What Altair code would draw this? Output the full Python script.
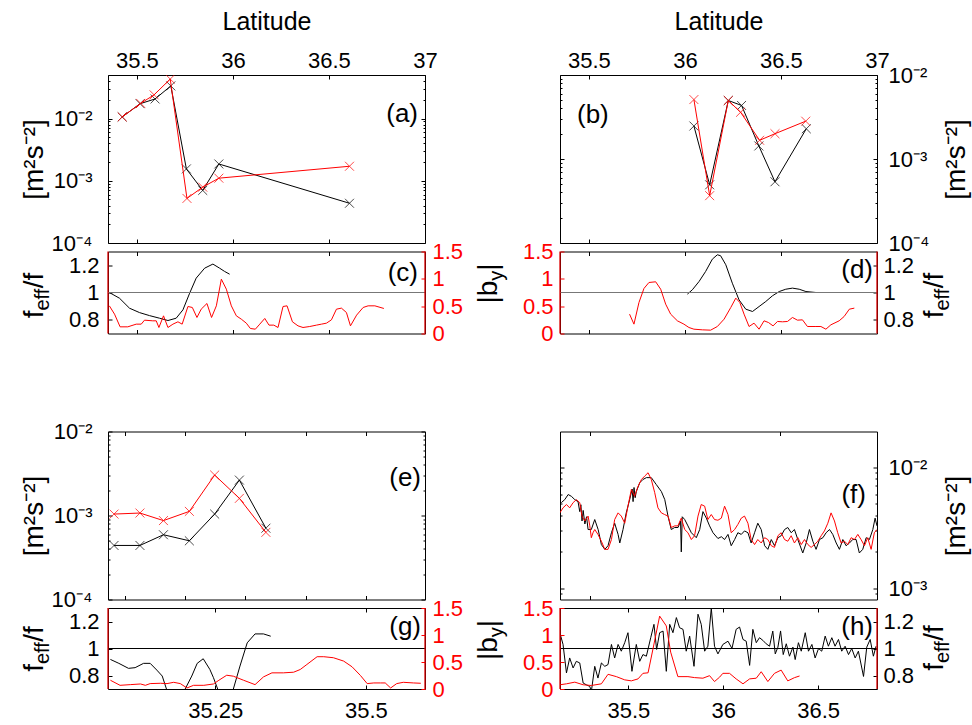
import altair as alt
import pandas as pd

FONT = "Liberation Sans"
RED = "#ff0000"
FRAME_RED = "#dd0000"
GREY = "#777777"
W = 317
H_BIG = 168
H_SMALL = 82
H_SMALL2 = 81
TICK = 4
MINOR = 2
XSHAPE = "M-1,-1L1,1M-1,1L1,-1"

# ---------------- data ----------------
# (a) m^2 s^-2
a_lat_black = [35.424, 35.517, 35.595, 35.677, 35.758, 35.843, 35.927, 36.607]
a_val_black = [0.0106, 0.0173, 0.0206, 0.0334, 1.55e-3, 7.0e-4, 1.86e-3, 4.35e-4]
a_lat_red = [35.424, 35.520, 35.590, 35.674, 35.761, 35.843, 35.927, 36.607]
a_val_red = [0.0106, 0.0175, 0.024, 0.043, 5.2e-4, 7.9e-4, 1.1e-3, 1.71e-3]
# (b)
b_lat_black = [36.047, 36.129, 36.226, 36.295, 36.385, 36.469, 36.632]
b_val_black = [2.47e-3, 4.93e-4, 4.97e-3, 4.34e-3, 1.43e-3, 5.36e-4, 2.29e-3]
b_lat_red = [36.047, 36.129, 36.226, 36.290, 36.389, 36.469, 36.629]
b_val_red = [5.1e-3, 3.66e-4, 4.97e-3, 3.6e-3, 1.67e-3, 2.0e-3, 2.82e-3]
# (e)
e_lat = [35.082, 35.125, 35.164, 35.207, 35.249, 35.290, 35.334]
e_val_black = [4.4e-4, 4.4e-4, 5.9e-4, 5.0e-4, 1.04e-3, 2.64e-3, 7.06e-4]
e_val_red = [1.04e-3, 1.07e-3, 8.7e-4, 1.12e-3, 3.03e-3, 1.6e-3, 6.3e-4]

# (f) (latitude, value in 1e-3 m^2 s^-2)
f_black = [(35.147, 5.1), (35.165, 5.4), (35.183, 5.95), (35.200, 5.75), (35.218, 5.4), (35.235, 5.2),
           (35.244, 4.3), (35.250, 4.9), (35.256, 3.6), (35.262, 4.4), (35.271, 3.4), (35.280, 3.9),
           (35.288, 3.06), (35.305, 3.06), (35.323, 3.7), (35.341, 3.06), (35.358, 2.3), (35.376, 2.1),
           (35.393, 2.25), (35.411, 2.88), (35.428, 3.45), (35.446, 2.79), (35.455, 2.37), (35.472, 3.06),
           (35.489, 4.2), (35.507, 5.4), (35.520, 6.6), (35.525, 5.2), (35.530, 6.8), (35.536, 5.6),
           (35.542, 6.3), (35.560, 7.44), (35.577, 7.92), (35.595, 8.2), (35.621, 8.2), (35.647, 7.2),
           (35.674, 6.3), (35.692, 5.4), (35.709, 3.95), (35.726, 3.06), (35.744, 3.18), (35.762, 3.18),
           (35.775, 3.6), (35.779, 2.0), (35.784, 3.9), (35.797, 3.7), (35.814, 3.28), (35.832, 2.88),
           (35.858, 2.62), (35.876, 3.06), (35.893, 4.3), (35.911, 3.8), (35.928, 3.28), (35.946, 2.88),
           (35.972, 2.58), (35.990, 2.67), (36.007, 2.53), (36.025, 2.79), (36.042, 2.25), (36.060, 2.53),
           (36.077, 2.88), (36.095, 2.79), (36.112, 2.98), (36.130, 2.88), (36.147, 2.37), (36.165, 2.88),
           (36.182, 3.45), (36.200, 3.06), (36.218, 2.25), (36.235, 2.1), (36.253, 2.53), (36.270, 2.25),
           (36.288, 2.62), (36.305, 2.72), (36.323, 3.06), (36.340, 3.18), (36.358, 2.88), (36.375, 3.06),
           (36.393, 2.53), (36.419, 1.96), (36.437, 2.37), (36.454, 3.06), (36.472, 2.45), (36.489, 2.1),
           (36.507, 2.53), (36.525, 2.62), (36.542, 2.88), (36.560, 3.06), (36.577, 2.79), (36.595, 2.37),
           (36.612, 2.1), (36.630, 2.53), (36.647, 2.25), (36.665, 2.37), (36.682, 2.53), (36.700, 2.53),
           (36.717, 1.96), (36.735, 2.1), (36.753, 2.62), (36.770, 2.53), (36.788, 3.06), (36.800, 3.8),
           (36.810, 3.28)]
f_red = [(35.139, 4.2), (35.156, 4.62), (35.174, 4.92), (35.191, 4.62), (35.209, 5.1), (35.226, 5.4),
         (35.244, 5.1), (35.256, 3.95), (35.270, 3.6), (35.288, 3.95), (35.297, 3.28), (35.305, 2.62),
         (35.314, 2.88), (35.323, 3.06), (35.340, 2.79), (35.358, 2.45), (35.376, 2.1), (35.393, 2.1),
         (35.411, 2.53), (35.428, 3.7), (35.446, 4.2), (35.463, 3.95), (35.481, 3.45), (35.498, 4.77),
         (35.516, 6.55), (35.533, 5.75), (35.551, 6.93), (35.569, 7.92), (35.586, 8.44), (35.604, 9.0),
         (35.621, 7.92), (35.639, 6.16), (35.656, 4.62), (35.674, 4.2), (35.691, 4.07), (35.709, 3.95),
         (35.726, 3.18), (35.744, 3.28), (35.761, 3.28), (35.779, 3.8), (35.797, 3.06), (35.814, 2.88),
         (35.832, 2.53), (35.849, 2.72), (35.867, 3.95), (35.884, 4.92), (35.902, 4.77), (35.919, 3.7),
         (35.937, 4.07), (35.954, 3.7), (35.972, 3.65), (35.990, 3.8), (36.007, 4.77), (36.025, 4.07),
         (36.042, 2.88), (36.060, 3.06), (36.077, 3.37), (36.095, 3.8), (36.112, 3.95), (36.130, 3.45),
         (36.147, 2.53), (36.165, 2.3), (36.182, 2.53), (36.200, 2.37), (36.218, 2.62), (36.235, 2.53),
         (36.253, 2.25), (36.270, 2.18), (36.288, 2.72), (36.305, 2.88), (36.323, 2.53), (36.340, 2.45),
         (36.358, 2.72), (36.375, 2.37), (36.393, 2.62), (36.411, 2.3), (36.428, 2.53), (36.446, 2.3),
         (36.463, 2.18), (36.481, 2.3), (36.498, 2.45), (36.516, 2.72), (36.533, 2.98), (36.551, 3.45),
         (36.568, 4.2), (36.586, 3.6), (36.603, 2.88), (36.621, 2.37), (36.639, 2.45), (36.656, 2.3),
         (36.674, 2.62), (36.691, 2.53), (36.709, 2.79), (36.726, 2.53), (36.744, 2.25), (36.761, 2.62),
         (36.779, 2.1), (36.796, 2.88), (36.810, 3.06)]

# (c) f_eff/f (black) and |b_y| (red)
c_black = [(35.357, 1.0), (35.410, 0.958), (35.462, 0.885), (35.514, 0.853), (35.566, 0.831),
           (35.618, 0.812), (35.662, 0.795), (35.705, 0.812), (35.740, 0.873), (35.775, 0.995),
           (35.809, 1.105), (35.853, 1.178), (35.896, 1.208), (35.931, 1.178), (35.957, 1.154),
           (35.983, 1.134)]
c_red = [(35.357, 0.506), (35.384, 0.354), (35.413, 0.122), (35.453, 0.122), (35.497, 0.171),
         (35.523, 0.171), (35.540, 0.244), (35.583, 0.232), (35.601, 0.232), (35.615, 0.110),
         (35.639, 0.323), (35.662, 0.110), (35.688, 0.171), (35.714, 0.214), (35.736, 0.171),
         (35.766, 0.494), (35.789, 0.476), (35.813, 0.293), (35.835, 0.445), (35.865, 0.549),
         (35.889, 0.293), (35.914, 0.506), (35.940, 0.994), (35.966, 0.811), (35.992, 0.506),
         (36.018, 0.323), (36.044, 0.262), (36.070, 0.189), (36.091, 0.092), (36.117, 0.079),
         (36.140, 0.171), (36.166, 0.275), (36.188, 0.153), (36.213, 0.153), (36.235, 0.110),
         (36.261, 0.494), (36.282, 0.506), (36.310, 0.214), (36.339, 0.140), (36.365, 0.110),
         (36.400, 0.128), (36.435, 0.153), (36.461, 0.171), (36.487, 0.189), (36.513, 0.250),
         (36.539, 0.445), (36.565, 0.464), (36.591, 0.384), (36.612, 0.140), (36.644, 0.336),
         (36.678, 0.476), (36.704, 0.506), (36.739, 0.506), (36.786, 0.458)]
# (d)
d_black = [(36.013, 0.988), (36.039, 1.020), (36.074, 1.081), (36.108, 1.154), (36.143, 1.244),
           (36.169, 1.276), (36.186, 1.269), (36.213, 1.203), (36.247, 1.068), (36.282, 0.946),
           (36.317, 0.878), (36.352, 0.861), (36.386, 0.897), (36.421, 0.934), (36.456, 0.976),
           (36.491, 1.007), (36.525, 1.024), (36.560, 1.032), (36.595, 1.024), (36.630, 1.007),
           (36.682, 1.000)]
d_red = [(35.712, 0.354), (35.735, 0.171), (35.761, 0.567), (35.787, 0.824), (35.813, 0.933),
         (35.848, 0.946), (35.874, 0.811), (35.900, 0.537), (35.926, 0.354), (35.961, 0.232),
         (35.995, 0.171), (36.021, 0.110), (36.047, 0.079), (36.091, 0.067), (36.134, 0.061),
         (36.169, 0.128), (36.204, 0.262), (36.239, 0.476), (36.265, 0.647), (36.286, 0.567),
         (36.308, 0.354), (36.334, 0.128), (36.360, 0.189), (36.386, 0.079), (36.412, 0.232),
         (36.435, 0.201), (36.459, 0.140), (36.482, 0.220), (36.508, 0.214), (36.534, 0.220),
         (36.560, 0.293), (36.586, 0.244), (36.612, 0.250), (36.638, 0.128), (36.682, 0.128),
         (36.708, 0.128), (36.734, 0.079), (36.760, 0.159), (36.803, 0.232), (36.829, 0.311),
         (36.856, 0.445), (36.882, 0.464)]
# (g)
g_black = [(35.076, 0.919), (35.090, 0.890), (35.106, 0.853), (35.117, 0.858), (35.131, 0.890),
           (35.142, 0.890), (35.153, 0.840), (35.162, 0.796), (35.169, 0.700), (35.184, 0.620),
           (35.200, 0.700), (35.211, 0.796), (35.220, 0.890), (35.230, 0.924), (35.241, 0.845),
           (35.247, 0.784), (35.254, 0.700), (35.267, 0.600), (35.280, 0.700), (35.291, 0.870),
           (35.303, 1.042), (35.316, 1.108), (35.330, 1.108), (35.342, 1.091)]
g_red = [(35.076, 0.162), (35.092, 0.068), (35.109, 0.081), (35.126, 0.093), (35.134, 0.068),
         (35.142, 0.100), (35.159, 0.106), (35.170, 0.100), (35.181, 0.124), (35.192, 0.100),
         (35.203, 0.019), (35.214, 0.068), (35.231, 0.068), (35.247, 0.093), (35.256, 0.162),
         (35.269, 0.255), (35.280, 0.237), (35.297, 0.162), (35.316, 0.081), (35.330, 0.224),
         (35.344, 0.299), (35.363, 0.299), (35.380, 0.311), (35.391, 0.361), (35.402, 0.454),
         (35.419, 0.598), (35.430, 0.598), (35.446, 0.579), (35.463, 0.517), (35.477, 0.411),
         (35.491, 0.249), (35.502, 0.100), (35.513, 0.112), (35.524, 0.112), (35.532, 0.112),
         (35.541, 0.019), (35.551, 0.100), (35.562, 0.124), (35.579, 0.112), (35.591, 0.106)]
# (h)
h_black = [(35.144, 1.092), (35.156, 1.030), (35.174, 0.819), (35.191, 0.930), (35.209, 0.856),
           (35.226, 0.905), (35.244, 0.893), (35.262, 0.744), (35.279, 0.731), (35.297, 0.719),
           (35.305, 0.680), (35.323, 0.868), (35.340, 0.781), (35.358, 0.893), (35.376, 0.868),
           (35.393, 0.881), (35.411, 1.030), (35.428, 0.930), (35.446, 1.030), (35.463, 0.980),
           (35.481, 1.043), (35.498, 1.117), (35.519, 0.831), (35.542, 1.030), (35.560, 0.905),
           (35.577, 0.955), (35.595, 0.943), (35.618, 1.080), (35.635, 1.179), (35.649, 0.993),
           (35.665, 1.117), (35.683, 1.129), (35.700, 0.831), (35.718, 1.179), (35.735, 1.117),
           (35.753, 1.229), (35.770, 1.154), (35.788, 1.142), (35.805, 0.980), (35.823, 1.092),
           (35.846, 0.868), (35.867, 1.254), (35.884, 1.179), (35.902, 0.980), (35.919, 1.017),
           (35.937, 1.300), (35.954, 1.017), (35.972, 0.960), (35.998, 1.030), (36.025, 1.054),
           (36.046, 1.000), (36.068, 1.142), (36.086, 1.159), (36.104, 1.067), (36.121, 1.054),
           (36.139, 0.875), (36.156, 1.142), (36.174, 1.043), (36.191, 1.080), (36.209, 1.060),
           (36.226, 1.035), (36.244, 1.017), (36.261, 1.129), (36.274, 0.960), (36.288, 1.010),
           (36.302, 1.130), (36.316, 0.955), (36.332, 1.035), (36.349, 0.943), (36.367, 1.010),
           (36.379, 0.918), (36.396, 1.043), (36.411, 0.980), (36.432, 1.117), (36.449, 0.980),
           (36.467, 1.030), (36.484, 0.930), (36.502, 1.000), (36.519, 0.980), (36.537, 1.092),
           (36.554, 1.017), (36.572, 1.080), (36.589, 1.017), (36.607, 1.067), (36.624, 0.980),
           (36.642, 1.017), (36.660, 0.955), (36.677, 1.000), (36.695, 0.930), (36.712, 0.980),
           (36.739, 0.793), (36.756, 1.010), (36.774, 1.067), (36.791, 0.943), (36.805, 1.017)]
h_red = [(35.139, 0.078), (35.174, 0.096), (35.218, 0.127), (35.262, 0.078), (35.305, 0.065),
         (35.358, 0.096), (35.393, 0.272), (35.437, 0.229), (35.481, 0.169), (35.516, 0.151),
         (35.551, 0.187), (35.577, 0.290), (35.604, 0.300), (35.630, 0.745), (35.665, 1.350),
         (35.700, 1.168), (35.723, 0.683), (35.761, 0.229), (35.814, 0.229), (35.849, 0.211),
         (35.893, 0.200), (35.928, 0.247), (35.954, 0.138), (35.981, 0.220), (35.998, 0.290),
         (36.033, 0.290), (36.068, 0.187), (36.104, 0.096), (36.139, 0.187), (36.174, 0.200),
         (36.200, 0.320), (36.235, 0.138), (36.270, 0.290), (36.305, 0.350), (36.340, 0.150),
         (36.375, 0.210), (36.402, 0.241)]

# axis domains / ticks
X_TOP = [35.35, 37.0]
X_E = [35.072, 35.598]
X_F = [35.14, 36.81]
TICKS_TOP = [35.5, 36.0, 36.5, 37.0]
TICKS_E = [35.1, 35.2, 35.3, 35.4, 35.5]
TICKS_G = [35.25, 35.5]
TICKS_F_TOP = [35.3, 35.8, 36.3]
TICKS_H = [35.5, 36.0, 36.5]
LOG_TICKS = [1e-4, 1e-3, 1e-2]
LOG_MINOR_A = [2e-4, 3e-4, 4e-4, 5e-4, 6e-4, 7e-4, 8e-4, 9e-4,
               2e-3, 3e-3, 4e-3, 5e-3, 6e-3, 7e-3, 8e-3, 9e-3, 2e-2, 3e-2, 4e-2, 5e-2]
LOG_MINOR_B = [2e-4, 3e-4, 4e-4, 5e-4, 6e-4, 7e-4, 8e-4, 9e-4,
               2e-3, 3e-3, 4e-3, 5e-3, 6e-3, 7e-3, 8e-3, 9e-3]
LOG_MINOR_F = [9e-4, 2e-3, 3e-3, 4e-3, 5e-3, 6e-3, 7e-3, 8e-3, 9e-3]
F_TICKS = [0.8, 1.0, 1.2]
B_TICKS = [0.0, 0.5, 1.0, 1.5]

LOGEXPR = "datum.value < 0.0005 ? '10⁻⁴' : (datum.value < 0.005 ? '10⁻³' : '10⁻²')"
NUMEXPR = "'' + datum.value"


def df2(lat, val, scale=1.0):
    return pd.DataFrame({"lat": list(lat), "val": [v * scale for v in val]})


def dfp(pairs, scale=1.0):
    return df2([p[0] for p in pairs], [p[1] for p in pairs], scale)


def axis(orient, values, labels=False, color="black", pad=6, expr=NUMEXPR, extra=None, size=TICK):
    kw = dict(orient=orient, values=values, labels=labels, domain=False, ticks=True,
              tickSize=size, offset=-size, tickColor=color, tickWidth=1, grid=False,
              labelFont=FONT, labelFontSize=22, labelColor=color, labelPadding=pad,
              labelFlush=False, labelOverlap=False, labelExpr=expr)
    if extra:
        kw.update(extra)
    return alt.Axis(**kw)


LAT_TITLE = dict(titleFont=FONT, titleFontSize=25, titleFontWeight="normal", titleColor="black",
                 titleY=-50, titleBaseline="alphabetic")
UNIT_LEFT = dict(titleFont=FONT, titleFontSize=28, titleFontWeight="normal", titleColor="black",
                 titleAngle=270, titleX=-70, titleBaseline="alphabetic")
UNIT_RIGHT = dict(titleFont=FONT, titleFontSize=28, titleFontWeight="normal", titleColor="black",
                  titleAngle=270, titleX=91, titleBaseline="alphabetic")


def xsc(dom):
    return alt.Scale(domain=dom, nice=False, zero=False)


def logsc(dom):
    return alt.Scale(type="log", domain=dom, nice=False)


def linsc(dom):
    return alt.Scale(domain=dom, nice=False, zero=False)


def series(data, color, xdom, ysc, xaxis, yaxis, xtitle=None, ytitle=None, markers=True):
    base = alt.Chart(data).encode(
        x=alt.X("lat:Q", title=xtitle, scale=xsc(xdom), axis=xaxis),
        y=alt.Y("val:Q", title=ytitle, scale=ysc, axis=yaxis),
    )
    layers = [base.mark_line(color=color, strokeWidth=1, clip=True)]
    if markers:
        layers.append(base.mark_point(shape=XSHAPE, size=80, filled=False, color=color,
                                      strokeWidth=1, clip=True))
    return alt.layer(*layers)


def minor_ticks(data, xdom, ysc, orient, values):
    # invisible marks that only carry a minor-tick axis on the shared log scale
    return alt.Chart(data).mark_point(opacity=0).encode(
        x=alt.X("lat:Q", title=None, scale=xsc(xdom), axis=None),
        y=alt.Y("val:Q", title=None, scale=ysc,
                axis=axis(orient, values, size=MINOR)),
    )


def letter(t, x, y, align="right"):
    return alt.Chart(pd.DataFrame({"t": [t]})).mark_text(
        align=align, baseline="middle", font=FONT, fontSize=26, color="black"
    ).encode(text="t:N", x=alt.value(x), y=alt.value(y))


CHAR_W = {"f": 0.278, "e": 0.556, "/": 0.278, "|": 0.26, "b": 0.556, "y": 0.5}


def tlen(s, size):
    return sum(CHAR_W[c] for c in s) * size


def rot_label(parts, x, yc, color="black", sub_dx=6):
    total = sum(tlen(t, s) for t, s, _ in parts)
    y = yc + total / 2
    out = []
    for t, s, sub in parts:
        out.append(alt.Chart(pd.DataFrame({"t": [t]})).mark_text(
            angle=270, align="left", baseline="alphabetic", font=FONT, fontSize=s, color=color
        ).encode(text="t:N", x=alt.value(x + (sub_dx if sub else 0)), y=alt.value(y)))
        y -= tlen(t, s)
    return out


FEFF = [("f", 28, False), ("eff", 20, True), ("/f", 28, False)]
BY = [("|b", 28, False), ("y", 20, True), ("|", 28, False)]


def red_frame(h):
    one = pd.DataFrame({"z": [0]})
    return [
        alt.Chart(one).mark_rule(color=FRAME_RED, strokeWidth=1.3).encode(
            x=alt.value(0), y=alt.value(0), y2=alt.value(h)),
        alt.Chart(one).mark_rule(color=FRAME_RED, strokeWidth=1.3).encode(
            x=alt.value(W), y=alt.value(0), y2=alt.value(h)),
    ]


def dual_panel(black, red, xdom, h, f_orient, b_orient, xb_axis, xt_axis, rule_color, extras):
    fsc = linsc([0.7, 1.3])
    bsc = linsc([0.0, 1.5])
    f_axis = axis(f_orient, F_TICKS, labels=True, pad=9 if f_orient == "left" else 6)
    b_axis = axis(b_orient, B_TICKS, labels=True, color=RED, pad=7)
    bl = alt.Chart(black).mark_line(color="black", strokeWidth=1, clip=True).encode(
        x=alt.X("lat:Q", title=None, scale=xsc(xdom), axis=xb_axis),
        y=alt.Y("val:Q", title=None, scale=fsc, axis=f_axis))
    rule = alt.Chart(pd.DataFrame({"z": [0]})).mark_rule(color=rule_color, strokeWidth=1).encode(
        y=alt.YDatum(1.0, type="quantitative", scale=fsc, axis=f_axis, title=None))
    inner = alt.layer(bl, rule)
    rd = alt.Chart(red).mark_line(color=RED, strokeWidth=1, clip=True).encode(
        x=alt.X("lat:Q", title=None, scale=xsc(xdom), axis=xt_axis),
        y=alt.Y("val:Q", title=None, scale=bsc, axis=b_axis))
    return alt.layer(inner, rd, *red_frame(h), *extras).resolve_scale(
        y="independent").resolve_axis(x="independent", y="independent").properties(width=W, height=h)


# ---------------- panels ----------------
# (a)
a_black_df = df2(a_lat_black, a_val_black)
pa = alt.layer(
    series(a_black_df, "black", X_TOP, logsc([1e-4, 0.05]),
           axis("top", TICKS_TOP, labels=True, pad=3, extra=LAT_TITLE),
           axis("left", LOG_TICKS, labels=True, pad=16, expr=LOGEXPR, extra=UNIT_LEFT),
           xtitle="Latitude", ytitle="[m²s⁻²]"),
    series(df2(a_lat_red, a_val_red), RED, X_TOP, logsc([1e-4, 0.05]),
           axis("bottom", TICKS_TOP[:3]), axis("right", LOG_TICKS)),
    minor_ticks(a_black_df, X_TOP, logsc([1e-4, 0.05]), "left", LOG_MINOR_A),
    minor_ticks(a_black_df, X_TOP, logsc([1e-4, 0.05]), "right", LOG_MINOR_A),
    letter("(a)", W - 7, 39),
).resolve_axis(x="independent", y="independent").properties(width=W, height=H_BIG)

# (b)
b_black_df = df2(b_lat_black, b_val_black)
pb = alt.layer(
    series(b_black_df, "black", X_TOP, logsc([1e-4, 1e-2]),
           axis("top", TICKS_TOP, labels=True, pad=3, extra=LAT_TITLE),
           axis("right", LOG_TICKS, labels=True, pad=11, expr=LOGEXPR, extra=UNIT_RIGHT),
           xtitle="Latitude", ytitle="[m²s⁻²]"),
    series(df2(b_lat_red, b_val_red), RED, X_TOP, logsc([1e-4, 1e-2]),
           axis("bottom", TICKS_TOP[:3]), axis("left", LOG_TICKS)),
    minor_ticks(b_black_df, X_TOP, logsc([1e-4, 1e-2]), "left", LOG_MINOR_B),
    minor_ticks(b_black_df, X_TOP, logsc([1e-4, 1e-2]), "right", LOG_MINOR_B),
    letter("(b)", 17, 40, align="left"),
).resolve_axis(x="independent", y="independent").properties(width=W, height=H_BIG)

# (c)
pc = dual_panel(dfp(c_black), dfp(c_red), X_TOP, H_SMALL, "left", "right",
                axis("bottom", TICKS_TOP[:3]), axis("top", TICKS_TOP[:3]), GREY,
                [letter("(c)", W - 7, 21)] + rot_label(FEFF, -65, 44))

# (d)
pd_ = dual_panel(dfp(d_black), dfp(d_red), X_TOP, H_SMALL, "right", "left",
                 axis("bottom", TICKS_TOP[:3]), axis("top", TICKS_TOP[:3]), GREY,
                 [letter("(d)", W - 4, 18)] + rot_label(FEFF, W + 66, 44) + rot_label(BY, -63, 32))

# spacer between the two rows of panels
spacer = alt.Chart(pd.DataFrame({"z": [0]})).mark_point(opacity=0).encode(
    x=alt.value(0), y=alt.value(0)).properties(
    width=W, height=81, view=alt.ViewBackground(stroke="transparent", fill="transparent"))

# (e)
e_black_df = df2(e_lat, e_val_black)
pe = alt.layer(
    series(e_black_df, "black", X_E, logsc([1e-4, 1e-2]),
           axis("top", TICKS_E),
           axis("left", LOG_TICKS, labels=True, pad=16, expr=LOGEXPR, extra=UNIT_LEFT),
           ytitle="[m²s⁻²]"),
    series(df2(e_lat, e_val_red), RED, X_E, logsc([1e-4, 1e-2]),
           axis("bottom", TICKS_E), axis("right", LOG_TICKS)),
    minor_ticks(e_black_df, X_E, logsc([1e-4, 1e-2]), "left", LOG_MINOR_B),
    minor_ticks(e_black_df, X_E, logsc([1e-4, 1e-2]), "right", LOG_MINOR_B),
    letter("(e)", W - 4, 46),
).resolve_axis(x="independent", y="independent").properties(width=W, height=H_BIG)

# (f)
f_black_df = dfp(f_black, 1e-3)
pf = alt.layer(
    series(f_black_df, "black", X_F, logsc([8.1e-4, 0.0197]),
           axis("top", TICKS_F_TOP),
           axis("right", [1e-3, 1e-2], labels=True, pad=11, expr=LOGEXPR, extra=UNIT_RIGHT),
           ytitle="[m²s⁻²]", markers=False),
    series(dfp(f_red, 1e-3), RED, X_F, logsc([8.1e-4, 0.0197]),
           axis("bottom", TICKS_F_TOP), axis("left", [1e-3, 1e-2]), markers=False),
    minor_ticks(f_black_df, X_F, logsc([8.1e-4, 0.0197]), "left", LOG_MINOR_F),
    minor_ticks(f_black_df, X_F, logsc([8.1e-4, 0.0197]), "right", LOG_MINOR_F),
    letter("(f)", W - 11, 63),
).resolve_axis(x="independent", y="independent").properties(width=W, height=H_BIG)

# (g)
pg = dual_panel(dfp(g_black), dfp(g_red), X_E, H_SMALL2, "left", "right",
                axis("bottom", TICKS_G, labels=True, pad=11), axis("top", TICKS_G), "black",
                [letter("(g)", W - 4, 19)] + rot_label(FEFF, -65, 41))

# (h)
ph = dual_panel(dfp(h_black), dfp(h_red), X_F, H_SMALL2, "right", "left",
                axis("bottom", TICKS_H, labels=True, pad=11), axis("top", TICKS_H), "black",
                [letter("(h)", W - 4, 19)] + rot_label(FEFF, W + 66, 40) + rot_label(BY, -63, 32))

chart = alt.concat(
    pa, pb, pc, pd_, spacer, spacer, pe, pf, pg, ph,
    columns=2, spacing={"row": 8.5, "column": 135}, align="each", bounds="flush",
).properties(
    autosize=alt.AutoSizeParams(type="none"),
    padding={"left": 108, "top": 75, "right": 864, "bottom": 650},
).configure(font=FONT).configure_view(stroke="black", strokeWidth=1, fill="white")

chart.save("out.html", embed_options={"renderer": "svg", "actions": False})
